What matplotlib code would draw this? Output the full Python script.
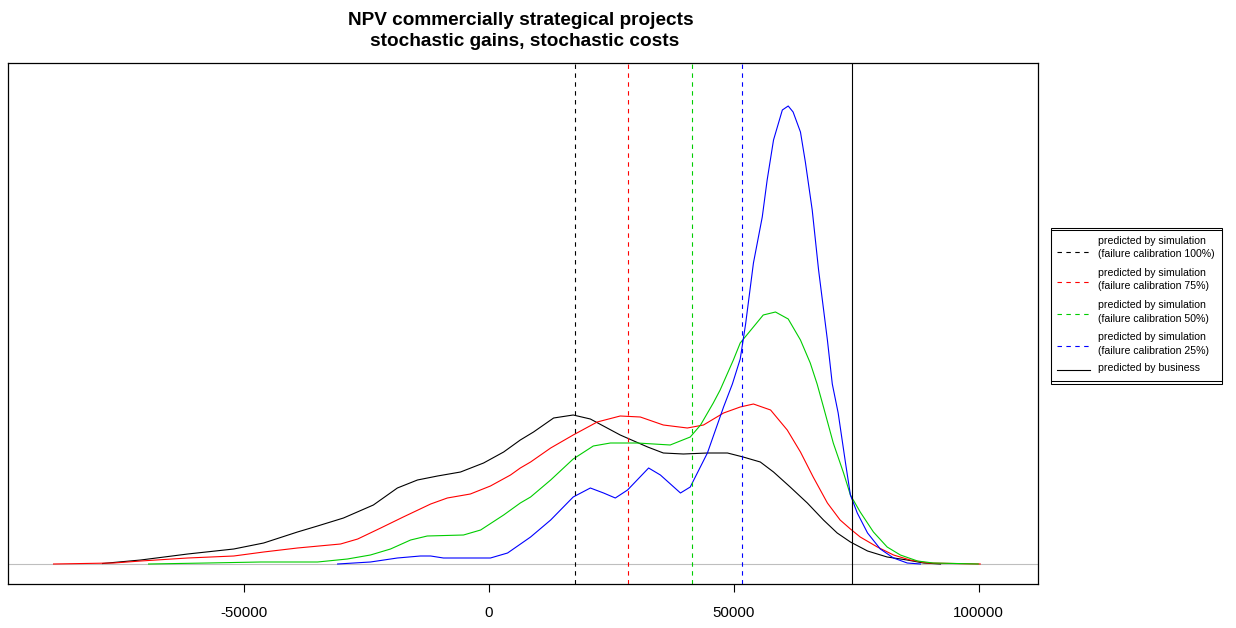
import matplotlib
matplotlib.use("Agg")
import matplotlib.pyplot as plt
from matplotlib.lines import Line2D
from matplotlib.patches import Rectangle

plt.rcParams.update({
    "font.family": ["Liberation Sans", "DejaVu Sans"],
    "figure.dpi": 100,
})

W, H = 1236, 628

# kernel density estimates of NPV (x) for each scenario, heights in plot units
x_sim100 = [-78900, -71100, -61500, -52100, -46000, -39100, -35000, -29700, -23600, -18700,
            -14600, -10500, -5800, -1100, 3000, 6400, 9100, 13200, 17200, 20700,
            26800, 32400, 35600, 39700, 44600, 48700, 51900, 55400, 58100, 61500,
            65000, 68300, 71100, 73800, 77300, 81300, 85400, 88700, 92200]
dens_sim100 = [0.5, 4, 10, 15, 21, 32, 38, 46, 59, 76,
               84, 88, 92, 101, 112, 124, 132, 146, 149, 145,
               129, 117, 111, 110, 111, 111, 107, 102, 92, 77,
               61, 44, 31, 22, 13, 7, 4, 1, 0]

x_sim75 = [-88900, -76600, -71100, -61500, -52100, -46000, -39100, -30300, -26800, -22100,
           -17500, -11900, -8500, -3800, 300, 4400, 6400, 8500, 12600, 17200,
           22100, 26800, 30900, 35600, 40500, 43800, 47900, 51300, 54000, 57500,
           60900, 63600, 66200, 69100, 71700, 73800, 75800, 79300, 82600, 86000,
           89500, 100300]
dens_sim75 = [0, 1, 3, 6, 8, 12, 16, 20, 25, 36,
              47, 60, 66, 70, 78, 89, 96, 102, 116, 129,
              142, 148, 147, 139, 136, 139, 151, 157, 160, 154,
              134, 112, 87, 61, 44, 35, 27, 17, 9, 4,
              1, 0]

x_sim50 = [-69500, -57500, -46600, -35000, -28900, -24200, -20100, -16000, -12600, -5200,
           -1700, 3000, 6400, 8500, 12600, 17200, 21300, 24800, 30300, 37000,
           41100, 43200, 45800, 47200, 49900, 51300, 56000, 58500, 61100, 63600,
           65600, 67000, 68300, 70300, 72400, 73800, 75800, 78500, 81300, 84000,
           87500, 90700, 99900]
dens_sim50 = [0, 1, 2, 2, 5, 9, 15, 24, 28, 29,
              34, 49, 61, 67, 84, 105, 118, 121, 121, 119,
              127, 139, 161, 174, 204, 221, 249, 252, 245, 224,
              201, 180, 157, 121, 91, 69, 52, 32, 17, 9,
              3, 1, 0]

x_sim25 = [-30900, -24200, -18700, -14000, -11900, -9300, 300, 3800, 8500, 12600,
           17200, 20700, 23400, 25800, 28300, 32600, 35000, 39100, 41100, 44600,
           47900, 49700, 51300, 52400, 54000, 55800, 56800, 58100, 59900, 61100,
           62100, 63600, 64600, 66000, 67300, 69100, 70100, 71300, 72800, 73800,
           75200, 77300, 79900, 82600, 85400, 88100]
dens_sim25 = [0, 2, 6, 8, 8, 6, 6, 11, 27, 44,
              67, 76, 71, 66, 74, 96, 89, 71, 77, 111,
              157, 180, 205, 240, 301, 347, 384, 424, 454, 458,
              452, 432, 402, 354, 294, 224, 180, 151, 101, 69,
              51, 31, 15, 6, 1, 0]

# mean NPV predicted by each simulation and by business
mean_sim = [17600, 28300, 41400, 51600]
mean_business = 74100

labels = ["predicted by simulation\n(failure calibration 100%)",
          "predicted by simulation\n(failure calibration 75%)",
          "predicted by simulation\n(failure calibration 50%)",
          "predicted by simulation\n(failure calibration 25%)",
          "predicted by business"]
xticks = [-50000, 0, 50000, 100000]

COLORS = ["black", "#FF0000", "#00CD00", "#0000FF"]
DASH = (0, (4, 4))
LW = 0.8


def fig_xy(px, py):
    return px / W, 1 - py / H


fig = plt.figure(figsize=(W / 100, H / 100), dpi=100)
ax = fig.add_axes([8 / W, 1 - 584 / H, 1030 / W, 521 / H])

ax.axhline(0, color="#BEBEBE", lw=LW)
series = [(x_sim100, dens_sim100), (x_sim75, dens_sim75),
          (x_sim50, dens_sim50), (x_sim25, dens_sim25)]
for (xs, ys), col in zip(series, COLORS):
    ax.plot(xs, ys, color=col, lw=LW, solid_joinstyle="round")

for m, col in zip(mean_sim, COLORS):
    ax.axvline(m, color=col, lw=LW, linestyle=DASH)
ax.axvline(mean_business, color="black", lw=LW)

ax.set_xlim(-98200, 112100)
ax.set_ylim(-20, 501)
ax.set_xticks(xticks)
ax.set_xticklabels([str(t) for t in xticks], fontsize=10.8)
ax.set_yticks([])
ax.tick_params(axis="x", direction="out", length=5.4, width=0.8, pad=10.5)
for sp in ax.spines.values():
    sp.set_linewidth(0.9)

# two-line title, R style
fig.text(*fig_xy(520.5, 25), "NPV commercially strategical projects",
         ha="center", va="baseline", fontsize=13.7, fontweight="bold")
fig.text(*fig_xy(524.5, 45.7), "stochastic gains, stochastic costs",
         ha="center", va="baseline", fontsize=13.7, fontweight="bold")

# legend drawn by hand outside the plot region
for top, bottom in [(227.5, 383.5), (230.5, 380.5)]:
    x0, y0 = fig_xy(1050.5, bottom)
    x1, y1 = fig_xy(1221.5, top)
    fig.add_artist(Rectangle((x0, y0), x1 - x0, y1 - y0, transform=fig.transFigure,
                             fill=False, edgecolor="black", lw=0.75))

text_rows = [(241.5, 254.5), (273.5, 286.5), (305.5, 318.5), (337.5, 350.5), (368,)]
sample_y = [251.7, 281.7, 314.3, 345.7, 370]
styles = [(c, DASH) for c in COLORS] + [("black", "-")]
for label, rows, sy, (col, ls) in zip(labels, text_rows, sample_y, styles):
    xa, ya = fig_xy(1057, sy)
    xb, _ = fig_xy(1090, sy)
    fig.add_artist(Line2D([xa, xb], [ya, ya], transform=fig.transFigure,
                          color=col, lw=LW, linestyle=ls))
    for line, ry in zip(label.split("\n"), rows):
        fig.text(*fig_xy(1098, ry), line, ha="left", va="center", fontsize=7.6)

fig.savefig("out.png", dpi=100, facecolor="white")
